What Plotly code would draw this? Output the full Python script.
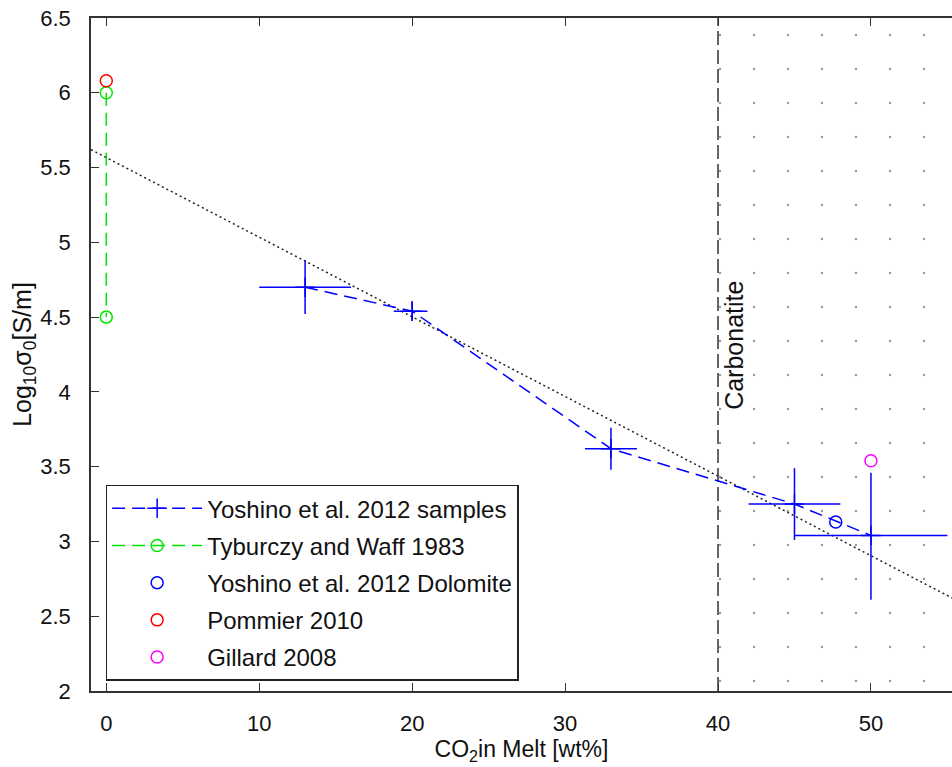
import plotly.graph_objects as go

# Yoshino et al. 2012 samples: CO2 content vs log10 sigma0, with uncertainties
samples_x = [13, 20, 33, 45, 50]
samples_y = [4.70, 4.54, 3.62, 3.25, 3.04]
samples_xerr_plus = [3.0, 1.0, 1.7, 3.0, 5.0]
samples_xerr_minus = [3.0, 1.2, 1.7, 3.0, 5.0]
samples_yerr_plus = [0.18, 0.065, 0.14, 0.24, 0.42]
samples_yerr_minus = [0.18, 0.065, 0.14, 0.24, 0.43]

# Tyburczy and Waff 1983
tyburczy_x = [0, 0]
tyburczy_y = [6.0, 4.5]

# Single-point literature values
dolomite_x = [47.7]
dolomite_y = [3.13]
pommier_x = [0]
pommier_y = [6.08]
gillard_x = [50]
gillard_y = [3.54]

# Linear trend through the data
trend_x = [-1.0, 56.0]
trend_y = [5.62, 2.585]

# Carbonatite field boundary
carbonatite_x = 40
x_range = [-1.0, 55.3]
y_range = [2.0, 6.5]
x_ticks = [0, 10, 20, 30, 40, 50]
y_ticks = [2, 2.5, 3, 3.5, 4, 4.5, 5, 5.5, 6, 6.5]

FONT = "Liberation Sans, Arial, sans-serif"
BLUE = "#0000ff"
GREEN = "#00e600"
RED = "#ff0000"
MAGENTA = "#ff00ff"

fig = go.Figure()

# stippled carbonatite field
fig.add_trace(go.Scatter(
    x=[carbonatite_x, x_range[1], x_range[1], carbonatite_x, carbonatite_x],
    y=[y_range[0], y_range[0], y_range[1], y_range[1], y_range[0]],
    mode="lines", fill="toself", fillcolor="rgba(0,0,0,0)",
    fillpattern=dict(shape=".", size=34, solidity=0.004,
                     fgcolor="#333333", bgcolor="rgba(0,0,0,0)"),
    line=dict(width=0), showlegend=False, hoverinfo="skip",
))

# carbonatite boundary
fig.add_trace(go.Scatter(
    x=[carbonatite_x, carbonatite_x], y=y_range, mode="lines",
    line=dict(color="#333333", width=1.5, dash="14px,5px"),
    showlegend=False, hoverinfo="skip",
))

# trend line
fig.add_trace(go.Scatter(
    x=trend_x, y=trend_y, mode="lines",
    line=dict(color="#222222", width=1.5, dash="2px,3px"),
    showlegend=False, hoverinfo="skip",
))

fig.add_trace(go.Scatter(
    x=samples_x, y=samples_y, mode="lines+markers",
    name="Yoshino et al. 2012 samples",
    line=dict(color=BLUE, width=1.5, dash="13px,7px"),
    marker=dict(symbol="cross-thin", size=14, color=BLUE,
                line=dict(color=BLUE, width=1.5)),
    error_x=dict(type="data", symmetric=False, array=samples_xerr_plus,
                 arrayminus=samples_xerr_minus, width=0, thickness=1.5, color=BLUE),
    error_y=dict(type="data", symmetric=False, array=samples_yerr_plus,
                 arrayminus=samples_yerr_minus, width=0, thickness=1.5, color=BLUE),
    legendgroup="a",
))

fig.add_trace(go.Scatter(
    x=tyburczy_x, y=tyburczy_y, mode="lines+markers",
    name="Tyburczy and Waff 1983",
    line=dict(color=GREEN, width=1.5, dash="13px,7px"),
    marker=dict(symbol="circle-open", size=12, color=GREEN,
                line=dict(color=GREEN, width=1.5)),
    legendgroup="b",
))

for name, xs, ys, col, grp in [
    ("Yoshino et al. 2012 Dolomite", dolomite_x, dolomite_y, BLUE, "c"),
    ("Pommier 2010", pommier_x, pommier_y, RED, "d"),
    ("Gillard 2008", gillard_x, gillard_y, MAGENTA, "e"),
]:
    fig.add_trace(go.Scatter(
        x=xs, y=ys, mode="markers", name=name,
        marker=dict(symbol="circle-open", size=12, color=col,
                    line=dict(color=col, width=1.5)),
        legendgroup=grp,
    ))

# companion trace for the top axis
fig.add_trace(go.Scatter(x=[None], y=[None], xaxis="x2", showlegend=False,
                         hoverinfo="skip"))

fig.add_annotation(
    x=41.0, y=4.31, xref="x", yref="y", text="Carbonatite",
    textangle=-90, showarrow=False,
    font=dict(family=FONT, size=25, color="#111111"),
)

axis_common = dict(
    showgrid=False, zeroline=False, showline=True, linecolor="#333333",
    linewidth=1.5, ticks="inside", ticklen=8, tickwidth=1.2,
    tickcolor="#333333", tickfont=dict(family=FONT, size=22, color="#111111"),
)

fig.update_layout(
    width=952, height=767,
    margin=dict(l=91, r=0, t=18, b=76),
    paper_bgcolor="white", plot_bgcolor="white",
    font=dict(family=FONT, color="#111111"),
    xaxis=dict(range=x_range, tickvals=x_ticks, ticklabelstandoff=12,
               title=dict(text="CO<sub>2</sub>in Melt [wt%]",
                          font=dict(family=FONT, size=23), standoff=6),
               **axis_common),
    xaxis2=dict(range=x_range, overlaying="x", side="top", matches="x",
                tickvals=x_ticks, showticklabels=False,
                **{k: v for k, v in axis_common.items() if k != "tickfont"}),
    yaxis=dict(range=y_range, tickvals=y_ticks,
               ticktext=[("%g" % v) for v in y_ticks], ticklabelstandoff=14,
               title=dict(text="Log<sub>10</sub>σ<sub>0</sub>[S/m]",
                          font=dict(family=FONT, size=25), standoff=2),
               **axis_common),
    legend=dict(
        x=0.017, y=0.3066, xanchor="left", yanchor="top",
        bgcolor="white", bordercolor="#222222", borderwidth=1.5,
        font=dict(family=FONT, size=24, color="#111111"),
        tracegroupgap=3, itemwidth=90,
    ),
    showlegend=True,
)

fig.write_html("out.html")
